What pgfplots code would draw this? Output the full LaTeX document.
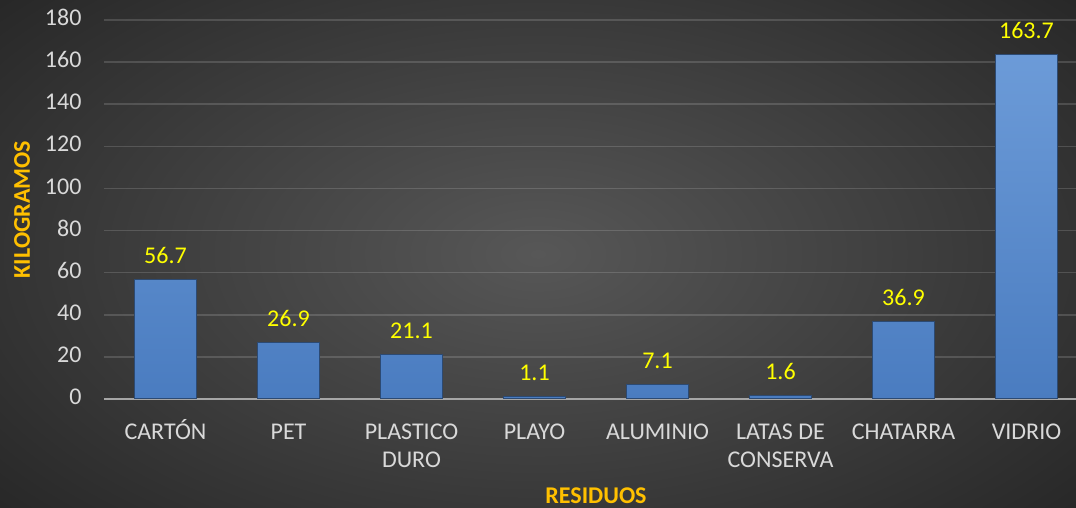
\documentclass[border=0pt]{standalone}
\usepackage{fontspec}
\setmainfont{Carlito}
\usepackage{pgfplots}
\pgfplotsset{compat=1.18}
\definecolor{bginner}{HTML}{575757}
\definecolor{bgouter}{HTML}{262626}
\definecolor{ticktext}{HTML}{D9D9D9}
\definecolor{valyellow}{HTML}{FFFF00}
\definecolor{titleorange}{HTML}{FFC000}
\definecolor{axisgray}{HTML}{A6A6A6}
\definecolor{bartop}{HTML}{6C9BD8}
\definecolor{barbottom}{HTML}{4A7CC0}
\definecolor{baredge}{HTML}{2C4A73}
\pgfplotsset{/pgf/number format/assume math mode=true}
\begin{document}
\begin{tikzpicture}[x=1bp,y=1bp]
\shade[inner color=bginner, outer color=bgouter] (-200,-150) rectangle (1276,658);
\begin{axis}[
  at={(104bp,109bp)}, anchor=south west,
  width=984bp, height=379bp, scale only axis,
  xmin=-0.5, xmax=7.5, ymin=0, ymax=180,
  xtick={0,...,7},
  xticklabels={CARTÓN,PET,PLASTICO\\DURO,PLAYO,ALUMINIO,LATAS DE\\CONSERVA,CHATARRA,VIDRIO},
  ytick={0,20,...,180},
  major tick length=0,
  axis x line*=bottom, axis y line*=left,
  x axis line style={draw=axisgray, line width=2.5bp, -},
  y axis line style={draw=none},
  ymajorgrids,
  grid style={draw=white, draw opacity=0.15, line width=1.5bp},
  ticklabel style={font=\fontsize{24bp}{28bp}\selectfont, text=ticktext},
  typeset ticklabels with strut,
  xticklabel style={align=center, yshift=-17bp},
  yticklabel style={xshift=-19bp},
  xlabel={RESIDUOS}, ylabel={KILOGRAMOS},
  label style={font=\fontsize{24bp}{28bp}\selectfont\bfseries, text=titleorange},
  xlabel style={at={(axis description cs:0.5,0)}, anchor=center, inner sep=1bp, yshift=-97bp},
  ylabel style={yshift=8bp},
  nodes near coords,
  nodes near coords style={font=\fontsize{24bp}{28bp}\selectfont, text=valyellow, anchor=south, yshift=12bp},
  clip=false,
]
\addplot[ybar, bar width=62bp, top color=bartop, bottom color=barbottom, draw=baredge, line width=1bp]
  coordinates {(0,56.7) (1,26.9) (2,21.1) (3,1.1) (4,7.1) (5,1.6) (6,36.9) (7,163.7)};
\end{axis}
\pgfresetboundingbox
\path (0,0) rectangle (1076,508);
\end{tikzpicture}
\end{document}
